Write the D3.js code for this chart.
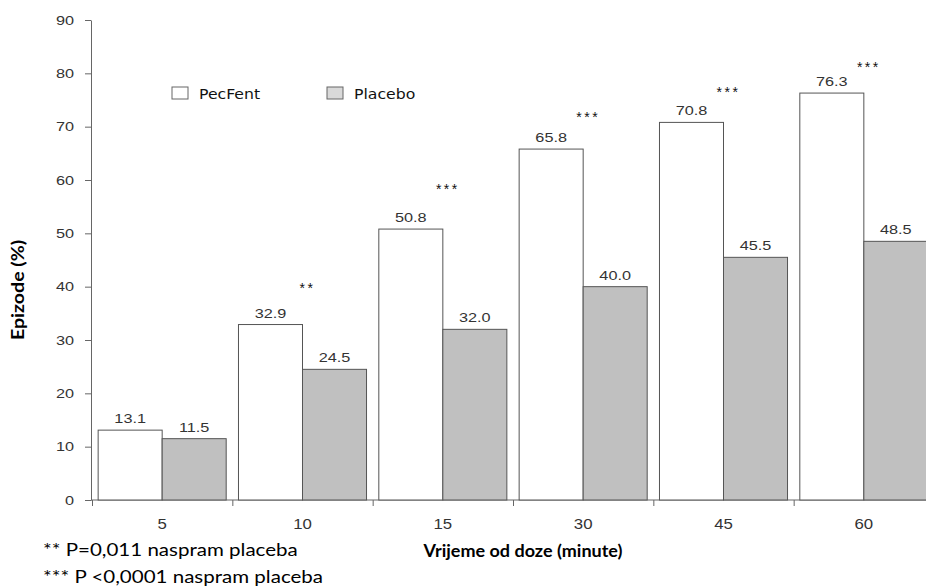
<html>
<head>
<meta charset="utf-8">
<title>Epizode</title>
<style>
  body { margin: 0; background: #fff; }
</style>
</head>
<body>
<div id="chart"></div>
<script src="https://cdn.jsdelivr.net/npm/d3@7"></script>
<script>
(function(){
  "use strict";

  // data
  var categories = ["5", "10", "15", "30", "45", "60"];
  var series = ["PecFent", "Placebo"];
  var pecFent = [13.1, 32.9, 50.8, 65.8, 70.8, 76.3];
  var placebo = [11.5, 24.5, 32.0, 40.0, 45.5, 48.5];
  var stars = ["", "**", "***", "***", "***", "***"];
  var starLevel = [null, 38.9, 57.4, 70.8, 75.6, 80.3];
  var yTicks = [0, 10, 20, 30, 40, 50, 60, 70, 80, 90];
  var footnotes = ["** P=0,011 naspram placeba", "*** P <0,0001 naspram placeba"];

  var w = 926, h = 587;
  var colors = { PecFent: "#ffffff", Placebo: "#c0c0c0" };
  var numFont = "'Liberation Sans', Arial, sans-serif";
  var textFont = "Lato, 'Open Sans', sans-serif";
  var sx = 1.25; // picture is stretched sideways

  var svg = d3.select("#chart").append("svg")
    .attr("width", w)
    .attr("height", h);

  var y = d3.scaleLinear().domain([0, 90]).range([500, 20]);
  var x = d3.scaleBand().domain(categories).range([92, 934]);
  var xs = d3.scaleBand().domain(series).range([0, x.bandwidth()]).paddingOuter(0.096);

  var rows = categories.map(function(c, i){
    return { cat: c, vals: [
      { s: "PecFent", v: pecFent[i] },
      { s: "Placebo", v: placebo[i] }
    ], star: stars[i], starLevel: starLevel[i] };
  });

  function stretchedText(g, px, py, txt, k){
    return g.append("text")
      .attr("transform", "translate(" + px + "," + py + ") scale(" + k + ",1)")
      .text(txt);
  }

  // y axis
  var yAxis = svg.append("g")
    .attr("transform", "translate(91,0)")
    .call(d3.axisLeft(y).tickValues(yTicks).tickSize(6).tickSizeOuter(0));
  yAxis.select(".domain").attr("stroke", "#666");
  yAxis.selectAll(".tick line").attr("stroke", "#666");
  yAxis.selectAll(".tick text")
    .attr("font-family", numFont)
    .attr("font-size", 13)
    .attr("fill", "#333")
    .attr("x", -17 / sx)
    .attr("transform", "scale(" + sx + ",1)");

  // x axis
  var xAxis = svg.append("g")
    .attr("transform", "translate(0,500)")
    .call(d3.axisBottom(x).tickSize(0).tickPadding(19));
  xAxis.select(".domain").remove();
  xAxis.selectAll(".tick text")
    .attr("font-family", numFont)
    .attr("font-size", 14)
    .attr("fill", "#333")
    .attr("transform", "scale(1.2,1)");
  xAxis.append("line")
    .attr("x1", 91).attr("x2", w)
    .attr("stroke", "#666");
  xAxis.selectAll("line.sep")
    .data(categories)
    .enter().append("line")
    .attr("class", "sep")
    .attr("x1", function(d){ return x(d) + 0.5; })
    .attr("x2", function(d){ return x(d) + 0.5; })
    .attr("y1", 0).attr("y2", 6)
    .attr("stroke", "#666");

  // bars
  var groups = svg.append("g").selectAll("g.grp")
    .data(rows)
    .enter().append("g")
    .attr("class", "grp")
    .attr("transform", function(d){ return "translate(" + x(d.cat) + ",0)"; });

  groups.selectAll("rect")
    .data(function(d){ return d.vals; })
    .enter().append("rect")
    .attr("x", function(d){ return xs(d.s); })
    .attr("width", xs.bandwidth())
    .attr("y", function(d){ return y(d.v); })
    .attr("height", function(d){ return y(0) - y(d.v); })
    .attr("fill", function(d){ return colors[d.s]; })
    .attr("stroke", "#555")
    .attr("stroke-width", 1);

  groups.each(function(d){
    var g = d3.select(this);
    d.vals.forEach(function(b){
      stretchedText(g, xs(b.s) + xs.bandwidth() / 2, y(b.v) - 7, b.v.toFixed(1), sx)
        .attr("text-anchor", "middle")
        .attr("font-family", numFont)
        .attr("font-size", 13)
        .attr("fill", "#333");
    });
    if (d.star) {
      stretchedText(g, x.bandwidth() / 2 + 5, y(d.starLevel), d.star, 1)
        .attr("text-anchor", "middle")
        .attr("font-family", numFont)
        .attr("font-size", 14)
        .attr("letter-spacing", 2.5)
        .attr("fill", "#111");
    }
  });

  // legend
  var legend = svg.append("g");
  var legX = [172, 327];
  series.forEach(function(s, i){
    legend.append("rect")
      .attr("x", legX[i]).attr("y", 87)
      .attr("width", 16).attr("height", 12)
      .attr("fill", i === 0 ? "#fff" : "#d9d9d9")
      .attr("stroke", "#666");
    stretchedText(legend, legX[i] + 27, 99, s, 1.12)
      .attr("font-family", "'DejaVu Sans', Verdana, sans-serif")
      .attr("font-size", 14)
      .attr("fill", "#111");
  });

  // titles
  svg.append("text")
    .attr("transform", "translate(24,290) rotate(-90) scale(1.15,1)")
    .attr("text-anchor", "middle")
    .attr("font-family", textFont)
    .attr("font-weight", "bold")
    .attr("font-size", 17)
    .text("Epizode (%)");

  stretchedText(svg, 523, 557, "Vrijeme od doze (minute)", 1.06)
    .attr("text-anchor", "middle")
    .attr("font-family", textFont)
    .attr("font-weight", "bold")
    .attr("font-size", 17);

  footnotes.forEach(function(t, i){
    stretchedText(svg, 43, 556 + i * 26.5, t, 1.14)
      .attr("font-family", textFont)
      .attr("font-size", 18)
      .attr("fill", "#000");
  });

})();
</script>
</body>
</html>
